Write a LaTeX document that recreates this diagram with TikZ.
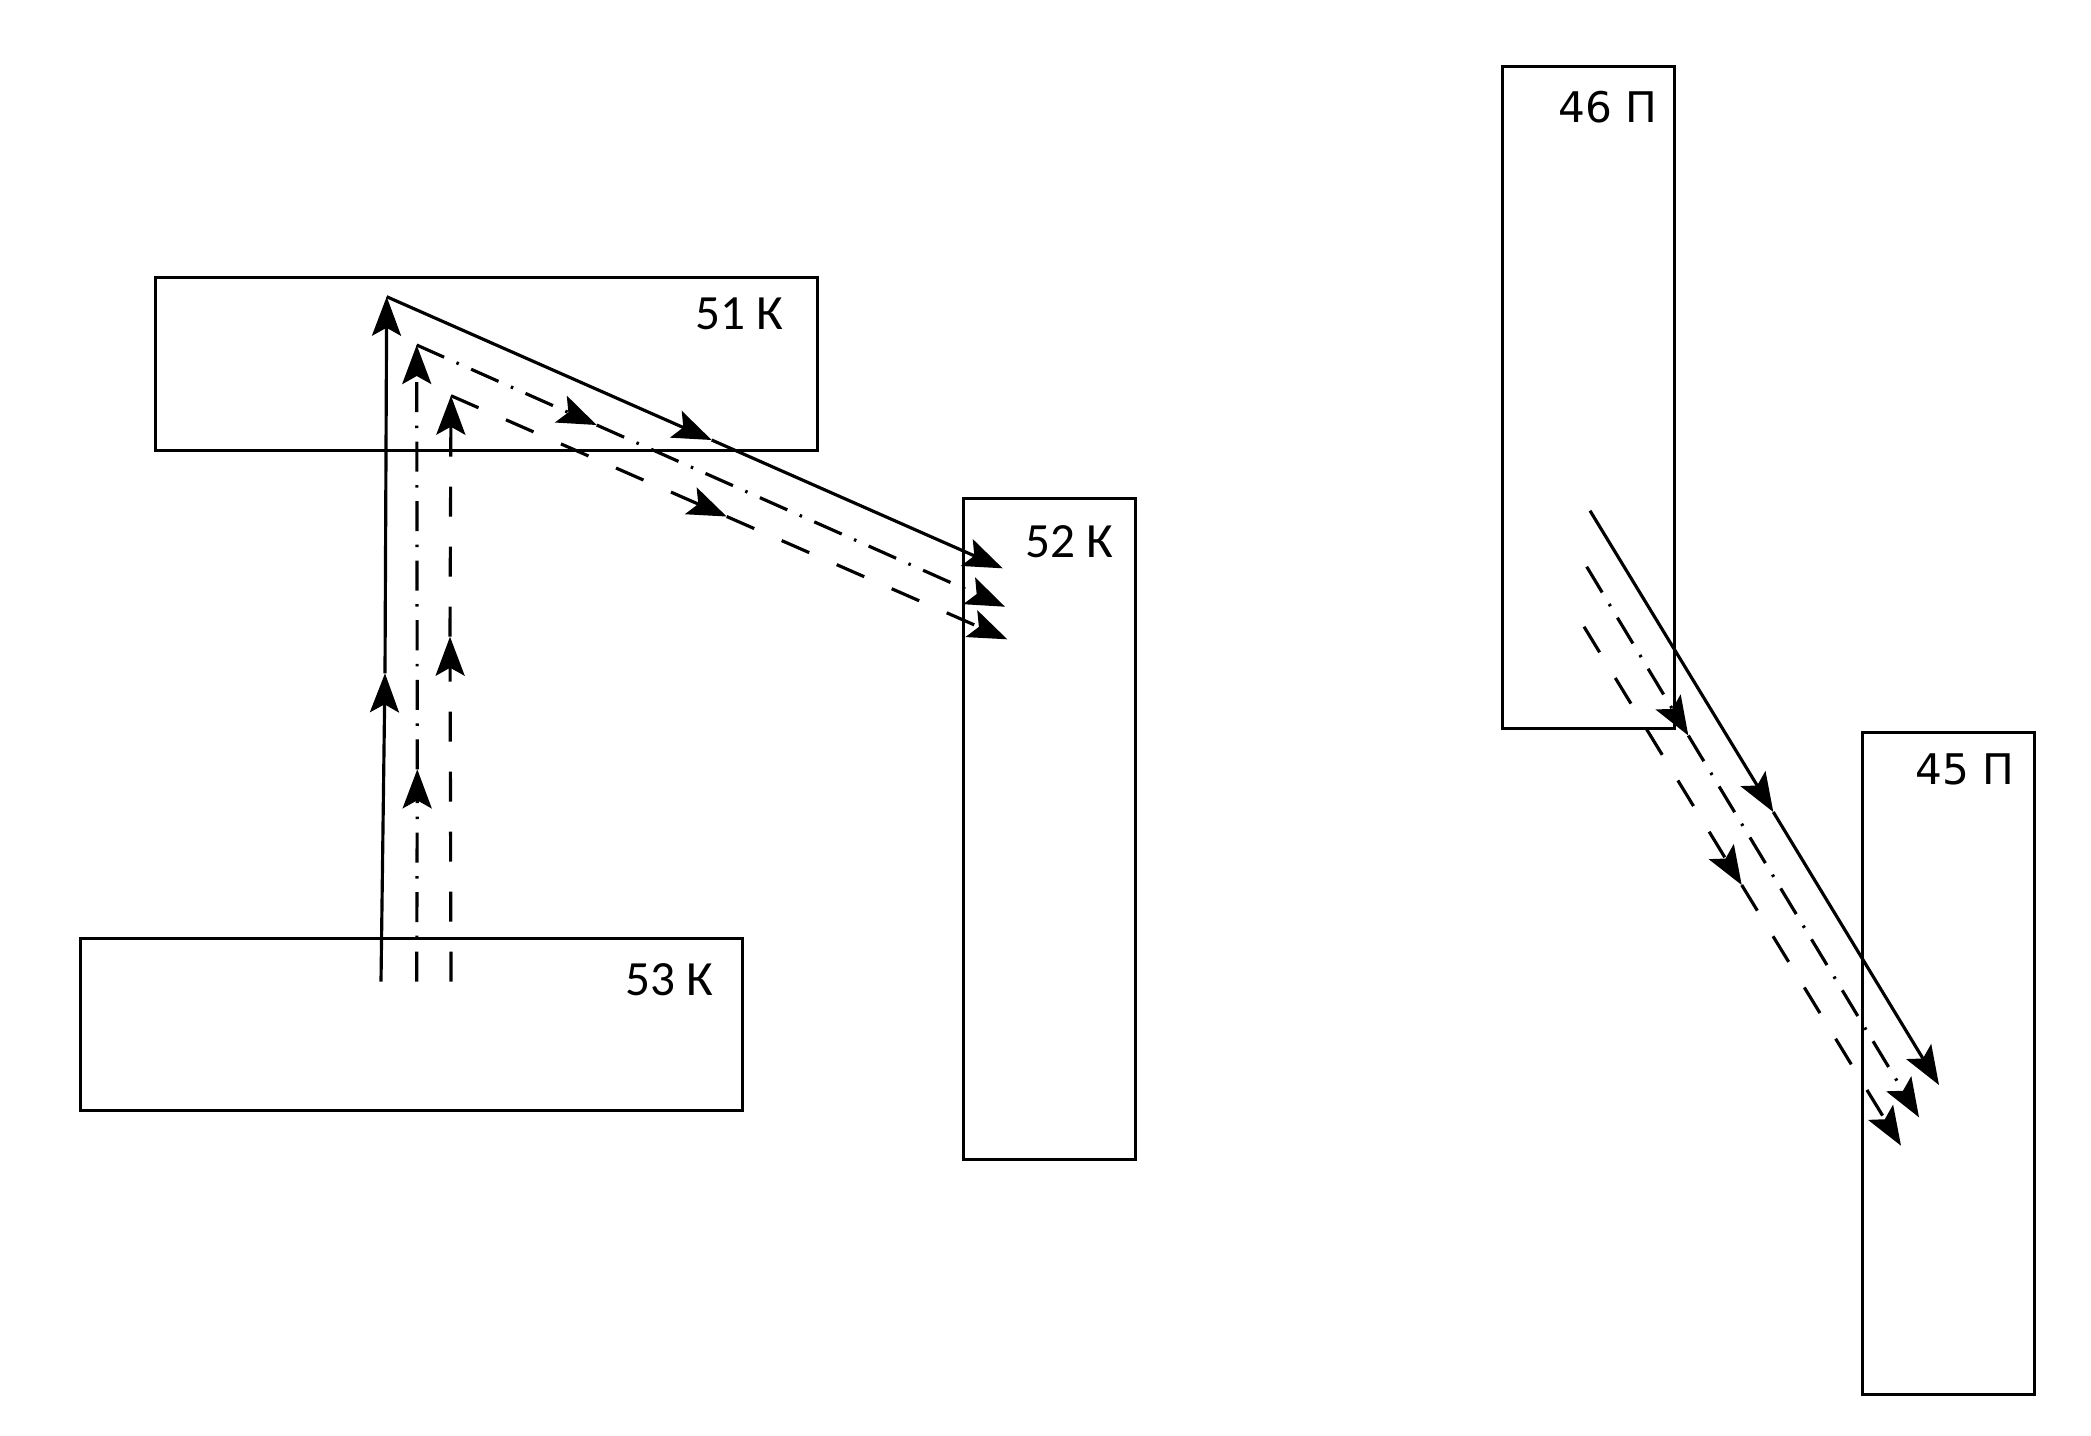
\documentclass[tikz,border=0pt]{standalone}
\usepackage{fontspec}
\usepackage{tikz}
\usetikzlibrary{arrows.meta}
\newfontfamily\carlitofont{Carlito}
\newfontfamily\dejavufont{DejaVu Sans}

\begin{document}
\begin{tikzpicture}[line cap=butt,line join=miter,x=0.01cm,y=-0.01cm,
        block/.style={draw,line width=0.85pt,inner sep=0pt,outer sep=0pt},
        wide/.style={block,minimum width=6.61cm,minimum height=1.72cm},
        tall/.style={block,minimum width=1.72cm,minimum height=6.61cm},
        lblK/.style={font=\carlitofont\fontsize{14}{16}\selectfont,inner sep=0pt,anchor=east},
        lblP/.style={font=\dejavufont\fontsize{12}{14}\selectfont,inner sep=0pt,anchor=east},
        ray/.style={line width=0.9pt,-{Stealth[length=3.9mm,width=2.9mm,inset=0.8mm]}},
        dashray/.style={ray,dash pattern=on 3mm off 3mm},
        dotray/.style={ray,dash pattern=on 3mm off 1.35mm on 0.25mm off 1.35mm}]
        \useasboundingbox (0,0) rectangle (2091,1435);
        % boxes
        \node [wide] (k51) at (486.5,364) {};
        \node [tall] (k52) at (1049.3,829) {};
        \node [wide] (k53) at (411.4,1024.2) {};
        \node [tall] (p46) at (1588.1,397.5) {};
        \node [tall] (p45) at (1948.2,1063.5) {};
        \node [lblK] (t51) at (784,314) {51 К};
        \node [lblK] (t52) at (1114.3,542) {52 К};
        \node [lblK] (t53) at (714.3,980) {53 К};
        \node [lblP] (t46) at (1657.7,107) {46 П};
        \node [lblP] (t45) at (2015,769.5) {45 П};
        % left rays
        \coordinate (s0) at (381,981.7);
        \coordinate (s1) at (385,673.3);
        \coordinate (s2) at (386.7,296.7);
        \coordinate (s3) at (711.7,440);
        \coordinate (s4) at (1002.7,568.3);
        \coordinate (d0) at (416.7,981.7);
        \coordinate (d1) at (417.3,769.3);
        \coordinate (d2) at (416.7,345);
        \coordinate (d3) at (596.7,425);
        \coordinate (d4) at (1005,606.7);
        \coordinate (q0) at (451,981.7);
        \coordinate (q1) at (450,636.7);
        \coordinate (q2) at (451,395.7);
        \coordinate (q3) at (726.7,516.5);
        \coordinate (q4) at (1007.3,639.3);
        \draw [ray] (s0) -- (s1);
        \draw [ray] (s1) -- (s2);
        \draw [ray] (s2) -- (s3);
        \draw [ray] (s3) -- (s4);
        \draw [dotray] (d0) -- (d1);
        \draw [dotray] (d1) -- (d2);
        \draw [dotray] (d2) -- (d3);
        \draw [dotray] (d3) -- (d4);
        \draw [dashray] (q0) -- (q1);
        \draw [dashray] (q1) -- (q2);
        \draw [dashray] (q2) -- (q3);
        \draw [dashray] (q3) -- (q4);
        % right rays
        \coordinate (r0) at (1590,510.7);
        \coordinate (r1) at (1773.3,812);
        \coordinate (r2) at (1939,1085);
        \coordinate (u0) at (1586.7,566.7);
        \coordinate (u1) at (1688.3,735.5);
        \coordinate (u2) at (1919,1117.3);
        \coordinate (v0) at (1584,626.7);
        \coordinate (v1) at (1741.7,885);
        \coordinate (v2) at (1901,1145.7);
        \draw [ray] (r0) -- (r1);
        \draw [ray] (r1) -- (r2);
        \draw [dotray] (u0) -- (u1);
        \draw [dotray] (u1) -- (u2);
        \draw [dashray] (v0) -- (v1);
        \draw [dashray] (v1) -- (v2);
\end{tikzpicture}
\end{document}
